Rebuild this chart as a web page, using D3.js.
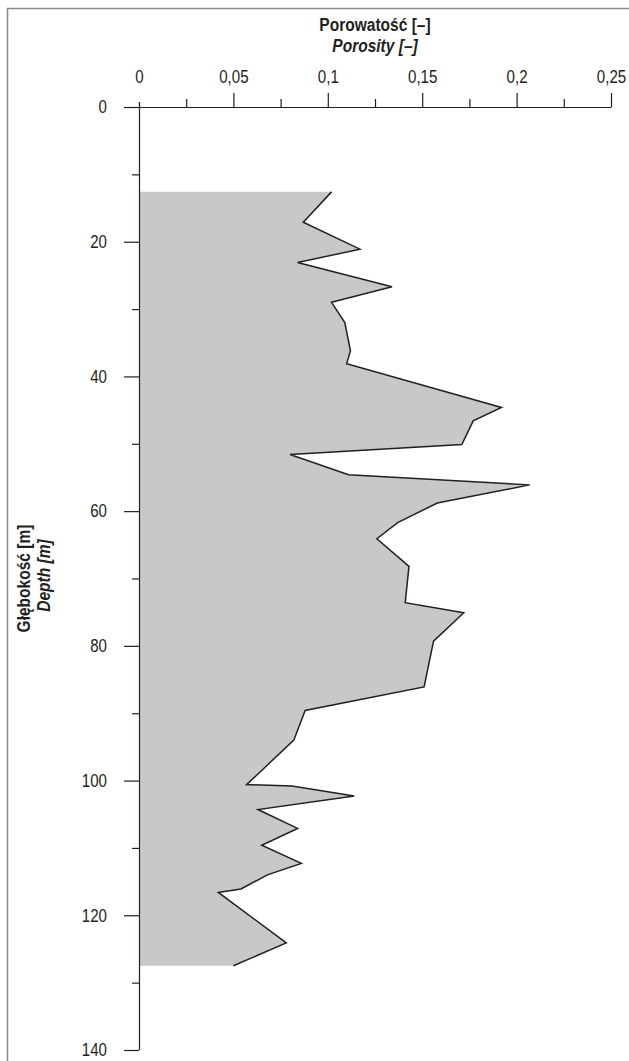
<!DOCTYPE html>
<html>
<head>
  <meta charset='utf-8'>
  <title>Porowatość</title>
  <style>
    body { margin: 0; background: #fff; }
    svg text { font-family: "Liberation Sans", Arial, sans-serif; fill: #231f20; }
  </style>
</head>
<body>
<div id="chart"></div>
<script src="https://cdnjs.cloudflare.com/ajax/libs/d3/7.8.5/d3.min.js"></script>
<script>

// depth [m] and porosity [-]
var depth = [12.6, 17.1, 21.1, 23.1, 26.7, 29.0, 32.0, 36.2, 38.1, 44.6, 46.6, 50.1,
  51.6, 54.6, 56.1, 58.8, 61.7, 64.1, 68.2, 73.6, 75.1, 79.3, 86.1, 89.6, 94.0,
  100.6, 100.8, 102.3, 104.3, 107.1, 109.6, 112.3, 114.0, 116.1, 116.6, 124.1, 127.5];
var porosity = [0.102, 0.087, 0.117, 0.084, 0.134, 0.102, 0.109, 0.112, 0.110, 0.192, 0.177, 0.171,
  0.080, 0.111, 0.207, 0.158, 0.137, 0.126, 0.143, 0.141, 0.172, 0.156, 0.151, 0.088, 0.082,
  0.057, 0.081, 0.114, 0.063, 0.084, 0.065, 0.086, 0.068, 0.054, 0.042, 0.078, 0.050];

var xTicks = [0, 0.05, 0.1, 0.15, 0.2, 0.25];
var xMinor = [0.025, 0.075, 0.125, 0.175, 0.225];
var yTicks = [0, 20, 40, 60, 80, 100, 120, 140];
var yMinor = [10, 30, 50, 70, 90, 110, 130];

var width = 629, height = 1061;
var x0 = 139, x1 = 611, y0 = 107, y1 = 1050;
var squeeze = 0.84; // fake a condensed face

var svg = d3.select('#chart').append('svg')
  .attr('width', width)
  .attr('height', height);

// outer frame
svg.append('path')
  .attr('d', 'M7.5,' + (height + 5) + 'V8.5H' + (width + 5))
  .attr('fill', 'none')
  .attr('stroke', '#8a8a8a')
  .attr('stroke-width', 1.5);

var x = d3.scaleLinear().domain([0, 0.25]).range([x0, x1]);
var y = d3.scaleLinear().domain([0, 140]).range([y0, y1]);

var pts = depth.map(function(d, i) { return [porosity[i], d]; });

// shaded area between the axis and the curve
var area = d3.area()
  .y(function(d) { return y(d[1]); })
  .x0(x(0))
  .x1(function(d) { return x(d[0]); });

svg.append('path')
  .datum(pts)
  .attr('d', area)
  .attr('fill', '#c7c8ca');

svg.append('path')
  .datum(pts)
  .attr('d', d3.line().x(function(d) { return x(d[0]); }).y(function(d) { return y(d[1]); }))
  .attr('fill', 'none')
  .attr('stroke', '#231f20')
  .attr('stroke-width', 1.5);

var fmt = function(d) { return String(d).replace('.', ','); };

// top axis
var gx = svg.append('g')
  .attr('transform', 'translate(0,' + y0 + ')')
  .call(d3.axisTop(x).tickValues(xTicks).tickSize(14).tickSizeOuter(0).tickPadding(10).tickFormat(fmt));
gx.selectAll('.tick').filter(function(d) { return d === 0; }).select('line').attr('y2', -5);

svg.append('g')
  .attr('transform', 'translate(0,' + y0 + ')')
  .call(d3.axisTop(x).tickValues(xMinor).tickSize(8).tickFormat(''))
  .select('.domain').remove();

// left axis
var gy = svg.append('g')
  .attr('transform', 'translate(' + x0 + ',0)')
  .call(d3.axisLeft(y).tickValues(yTicks).tickSize(15).tickSizeOuter(0).tickPadding(17));
gy.select('.domain').attr('d', 'M0.5,' + (y0 - 5) + 'V' + y1);

svg.append('g')
  .attr('transform', 'translate(' + x0 + ',0)')
  .call(d3.axisLeft(y).tickValues(yMinor).tickSize(7).tickFormat(''))
  .select('.domain').remove();

svg.selectAll('.domain, .tick line').attr('stroke', '#231f20').attr('stroke-width', 1.2);
svg.selectAll('.tick text')
  .attr('font-size', 18).attr('fill', '#231f20')
  .style('font-family', '"Liberation Sans", Arial, sans-serif')
  .each(function() {
    var t = d3.select(this);
    var tx = +t.attr('x') || 0, ty = +t.attr('y') || 0;
    t.attr('x', 0).attr('y', 0)
      .attr('transform', 'translate(' + tx + ',' + ty + ') scale(' + squeeze + ',1)');
  });

// titles
var cx = (x0 + x1) / 2;
svg.append('text').attr('transform', 'translate(' + cx + ',31) scale(' + squeeze + ',1)')
  .attr('text-anchor', 'middle')
  .attr('font-size', 18.5).attr('font-weight', 'bold').text('Porowatość [–]');
svg.append('text').attr('transform', 'translate(' + cx + ',52) scale(' + squeeze + ',1)')
  .attr('text-anchor', 'middle')
  .attr('font-size', 18.5).attr('font-weight', 'bold').attr('font-style', 'italic').text('Porosity [–]');

var cy = (y0 + y1) / 2;
svg.append('text').attr('transform', 'translate(30,' + cy + ') rotate(-90) scale(' + squeeze + ',1)')
  .attr('text-anchor', 'middle')
  .attr('font-size', 18.5).attr('font-weight', 'bold').text('Głębokość [m]');
svg.append('text').attr('transform', 'translate(50,' + (cy - 3) + ') rotate(-90) scale(' + squeeze + ',1)')
  .attr('text-anchor', 'middle')
  .attr('font-size', 18.5).attr('font-weight', 'bold').attr('font-style', 'italic').text('Depth [m]');

</script>
</body>
</html>
